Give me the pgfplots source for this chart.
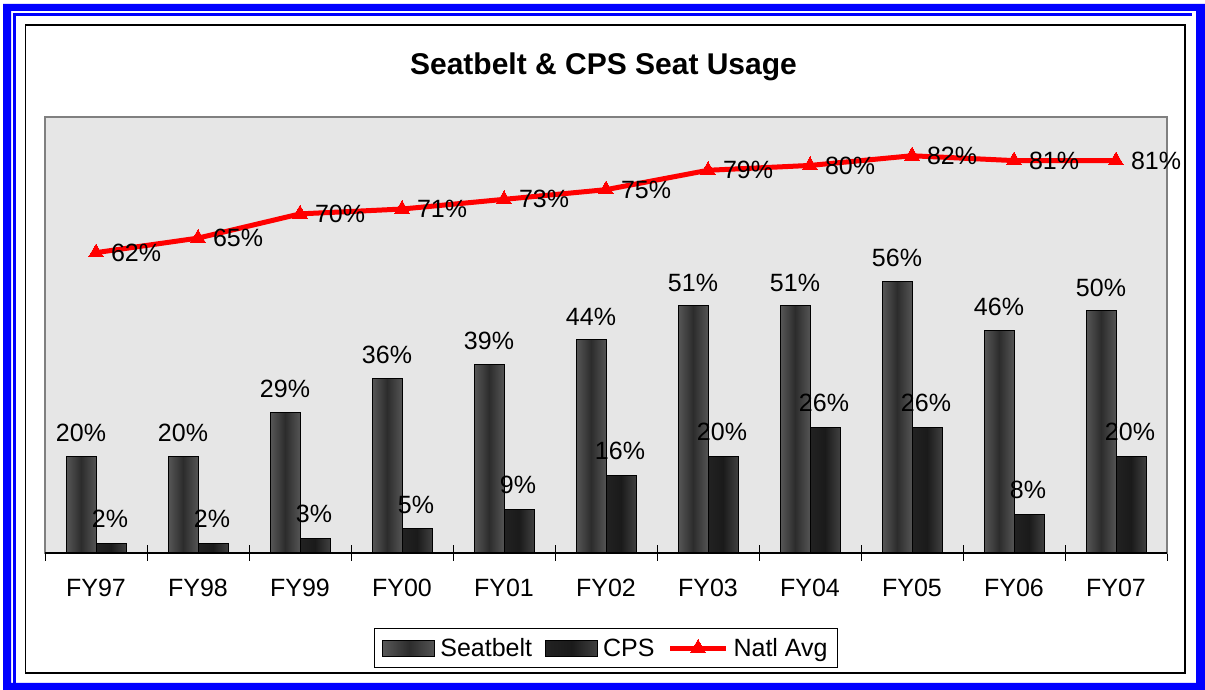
\documentclass[border=0pt]{standalone}
\usepackage{pgfplots}
\pgfplotsset{compat=1.18}
\usepackage{fontspec}
\setmainfont{Liberation Sans}
\definecolor{sbL}{RGB}{88,88,88}
\definecolor{sbM}{RGB}{44,44,44}
\definecolor{sbR}{RGB}{84,84,84}
\definecolor{cpL}{RGB}{34,34,34}
\definecolor{cpM}{RGB}{26,26,26}
\definecolor{cpR}{RGB}{64,64,64}
\definecolor{marble}{RGB}{230,230,230}
\definecolor{frameblue}{RGB}{0,0,255}
\pgfplotsset{
  barlegend/.style={legend image code/.code={\draw[##1] (0pt,-8pt) rectangle (52pt,8pt);}},
  linelegend/.style={legend image code/.code={\draw[mark repeat=2,mark phase=2,##1] plot coordinates {(0pt,0pt) (28pt,0pt) (56pt,0pt)};}},
  pct/.style={nodes near coords={\pgfmathprintnumber{\pgfplotspointmeta}\%}},
  sbbar/.style={ybar, bar width=30pt, bar shift=-15pt, draw=black, line width=1pt,
    left color=sbL, right color=sbR, middle color=sbM, pct,
    nodes near coords style={font=\fontsize{25}{30}\selectfont, anchor=south, inner sep=0pt, yshift=14pt, xshift=-15pt, text=black},
    barlegend},
  cpbar/.style={ybar, bar width=30pt, bar shift=15pt, draw=black, line width=1pt,
    left color=cpL, right color=cpR, middle color=cpM, pct,
    nodes near coords style={font=\fontsize{25}{30}\selectfont, anchor=south, inner sep=0pt, yshift=15pt, xshift=14pt, text=black},
    barlegend},
}
\begin{document}
\begin{tikzpicture}[x=1pt,y=1pt]
\useasboundingbox (0,0) rectangle (1205,690);
\fill[white] (0,0) rectangle (1205,690);
\fill[frameblue, even odd rule] (3,-20) rectangle (1225,686) (11,7) rectangle (1196,679);
\draw[frameblue, line width=2.5pt] (14.5,7) -- (14.5,675.5) -- (1192,675.5);
\draw[black, line width=1.5pt] (25.5,17) rectangle (1185,665);
\node[anchor=base, font=\fontsize{30}{36}\selectfont\bfseries] at (603.5,615) {Seatbelt \& CPS Seat Usage};
\begin{axis}[
  at={(45pt,137pt)}, anchor=south west,
  width=1122pt, height=436pt, scale only axis,
  xmin=-0.5, xmax=10.5, ymin=0, ymax=90,
  clip=false,
  axis background/.style={fill=marble},
  axis line style={draw=gray, line width=1.2pt},
  ytick=\empty,
  xtick={0,...,10},
  xticklabels={FY97,FY98,FY99,FY00,FY01,FY02,FY03,FY04,FY05,FY06,FY07},
  major tick length=0pt,
  minor xtick={-0.5,0.5,...,10.5},
  minor tick length=16pt,
  tick align=center,
  xtick pos=bottom,
  minor tick style={black, line width=1pt},
  xticklabel style={font=\fontsize{25}{30}\selectfont, anchor=north, inner sep=0pt, yshift=-26pt},
  /pgf/number format/assume math mode=true,
  legend style={draw=black, line width=1pt, fill=white, at={(0.5,-0.218)}, anchor=center,
    font=\fontsize{25}{30}\selectfont, inner xsep=8pt, inner ysep=8pt,
    /tikz/every odd column/.append style={column sep=3pt},
    /tikz/every even column/.append style={column sep=11pt}},
  legend columns=3,
]
% Seatbelt
\addplot[sbbar] coordinates {(0,20)};
\addlegendentry{Seatbelt}
% CPS
\addplot[cpbar] coordinates {(0,2)};
\addlegendentry{CPS}
\addplot[sbbar, forget plot] coordinates {(1,20)};
\addplot[sbbar, forget plot] coordinates {(2,29)};
\addplot[sbbar, forget plot] coordinates {(3,36)};
\addplot[sbbar, forget plot] coordinates {(4,39)};
\addplot[sbbar, forget plot] coordinates {(5,44)};
\addplot[sbbar, forget plot] coordinates {(6,51)};
\addplot[sbbar, forget plot] coordinates {(7,51)};
\addplot[sbbar, forget plot] coordinates {(8,56)};
\addplot[sbbar, forget plot] coordinates {(9,46)};
\addplot[sbbar, forget plot] coordinates {(10,50)};
\addplot[cpbar, forget plot] coordinates {(1,2)};
\addplot[cpbar, forget plot] coordinates {(2,3)};
\addplot[cpbar, forget plot] coordinates {(3,5)};
\addplot[cpbar, forget plot] coordinates {(4,9)};
\addplot[cpbar, forget plot] coordinates {(5,16)};
\addplot[cpbar, forget plot] coordinates {(6,20)};
\addplot[cpbar, forget plot] coordinates {(7,26)};
\addplot[cpbar, forget plot] coordinates {(8,26)};
\addplot[cpbar, forget plot] coordinates {(9,8)};
\addplot[cpbar, forget plot] coordinates {(10,20)};
% National average
\addplot[red, line width=5pt, mark=triangle*, mark size=8.5pt, mark options={solid, line width=0pt, fill=red}, pct,
  nodes near coords style={font=\fontsize{25}{30}\selectfont, anchor=west, inner sep=0pt, xshift=15pt, text=black},
  linelegend]
  coordinates {(0,62) (1,65) (2,70) (3,71) (4,73) (5,75) (6,79) (7,80) (8,82) (9,81) (10,81)};
\addlegendentry{Natl Avg}
\draw[black, line width=1.2pt] (axis cs:-0.5,0) -- (axis cs:10.5,0);
\end{axis}
\end{tikzpicture}
\end{document}
